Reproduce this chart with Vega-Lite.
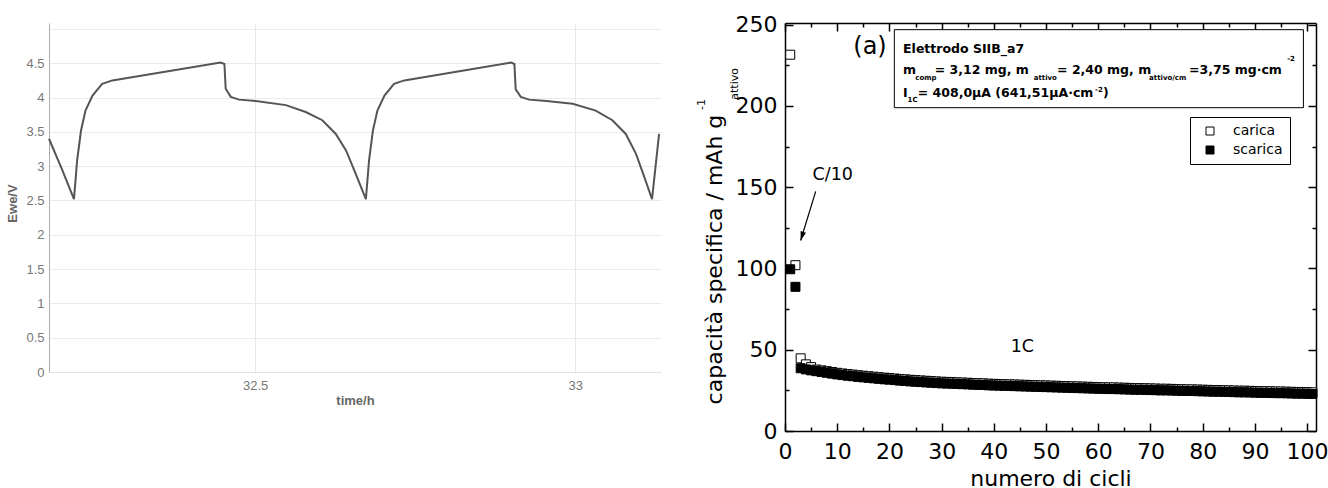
{
  "$schema": "https://vega.github.io/schema/vega-lite/v6.json",
  "padding": {"left": 6, "top": 13, "right": 0, "bottom": 0},
  "config": {
    "font": "Liberation Sans",
    "view": {"stroke": null}
  },
  "spacing": 124,
  "bounds": "flush",
  "hconcat": [
    {
      "width": 612,
      "height": 349,
      "data": {"values": [
        {"tempo": 32.178, "E": 3.40}, {"tempo": 32.198, "E": 2.96}, {"tempo": 32.217, "E": 2.52},
        {"tempo": 32.222, "E": 3.09}, {"tempo": 32.228, "E": 3.52}, {"tempo": 32.235, "E": 3.81},
        {"tempo": 32.246, "E": 4.03}, {"tempo": 32.261, "E": 4.20}, {"tempo": 32.277, "E": 4.25},
        {"tempo": 32.446, "E": 4.51}, {"tempo": 32.452, "E": 4.49}, {"tempo": 32.454, "E": 4.13},
        {"tempo": 32.462, "E": 4.01}, {"tempo": 32.475, "E": 3.97}, {"tempo": 32.501, "E": 3.95},
        {"tempo": 32.548, "E": 3.89}, {"tempo": 32.579, "E": 3.79}, {"tempo": 32.605, "E": 3.67},
        {"tempo": 32.626, "E": 3.47}, {"tempo": 32.642, "E": 3.23}, {"tempo": 32.657, "E": 2.89},
        {"tempo": 32.673, "E": 2.52}, {"tempo": 32.678, "E": 3.09}, {"tempo": 32.684, "E": 3.52},
        {"tempo": 32.691, "E": 3.81}, {"tempo": 32.702, "E": 4.03}, {"tempo": 32.717, "E": 4.20},
        {"tempo": 32.733, "E": 4.25}, {"tempo": 32.900, "E": 4.51}, {"tempo": 32.905, "E": 4.49},
        {"tempo": 32.907, "E": 4.12}, {"tempo": 32.915, "E": 4.01}, {"tempo": 32.928, "E": 3.97},
        {"tempo": 32.955, "E": 3.95}, {"tempo": 32.996, "E": 3.91}, {"tempo": 33.032, "E": 3.81},
        {"tempo": 33.058, "E": 3.67}, {"tempo": 33.079, "E": 3.47}, {"tempo": 33.095, "E": 3.18},
        {"tempo": 33.108, "E": 2.84}, {"tempo": 33.120, "E": 2.52}, {"tempo": 33.131, "E": 3.47}
      ]},
      "mark": {"type": "line", "color": "#555555", "strokeWidth": 2},
      "encoding": {
        "x": {
          "field": "tempo", "type": "quantitative",
          "scale": {"domain": [32.178, 33.134], "nice": false, "zero": false},
          "axis": {
            "values": [32.5, 33], "format": "~g", "title": "time/h",
            "grid": true, "gridColor": "#e6e6e6", "domainColor": "#e2e2d6",
            "tickSize": 0, "labelPadding": 7, "labelFontSize": 13, "labelColor": "#777777",
            "titleFontSize": 13, "titleFontWeight": "bold", "titleColor": "#666666", "titlePadding": 2
          }
        },
        "y": {
          "field": "E", "type": "quantitative",
          "scale": {"domain": [0, 5.087], "nice": false},
          "axis": {
            "values": [0, 0.5, 1, 1.5, 2, 2.5, 3, 3.5, 4, 4.5, 5],
            "labelExpr": "datum.value == 5 ? '' : format(datum.value, '~g')",
            "grid": true, "gridColor": "#ebebeb", "domainColor": "#aaaaaa",
            "tickSize": 0, "labelPadding": 5, "labelFontSize": 13, "labelColor": "#777777",
            "title": "Ewe/V", "titleX": -30, "titleY": 180, "titleFontSize": 13,
            "titleFontWeight": "bold", "titleColor": "#666666"
          }
        }
      }
    },
    {
      "width": 531,
      "height": 408,
      "resolve": {"axis": {"x": "independent", "y": "independent"}},
      "layer": [
        {
          "data": {"values": [
            {"ciclo": 1, "capacita": 231.5, "serie": "carica"},
            {"ciclo": 2, "capacita": 102.0, "serie": "carica"},
            {"ciclo": 3, "capacita": 44.7, "serie": "carica"},
            {"ciclo": 4, "capacita": 41.0, "serie": "carica"},
            {"ciclo": 5, "capacita": 39.3, "serie": "carica"},
            {"ciclo": 6, "capacita": 37.8, "serie": "carica"},
            {"ciclo": 7, "capacita": 37.3, "serie": "carica"},
            {"ciclo": 8, "capacita": 36.8, "serie": "carica"},
            {"ciclo": 9, "capacita": 36.3, "serie": "carica"},
            {"ciclo": 10, "capacita": 35.8, "serie": "carica"},
            {"ciclo": 11, "capacita": 35.4, "serie": "carica"},
            {"ciclo": 12, "capacita": 35.0, "serie": "carica"},
            {"ciclo": 13, "capacita": 34.7, "serie": "carica"},
            {"ciclo": 14, "capacita": 34.3, "serie": "carica"},
            {"ciclo": 15, "capacita": 34.0, "serie": "carica"},
            {"ciclo": 16, "capacita": 33.7, "serie": "carica"},
            {"ciclo": 17, "capacita": 33.4, "serie": "carica"},
            {"ciclo": 18, "capacita": 33.1, "serie": "carica"},
            {"ciclo": 19, "capacita": 32.8, "serie": "carica"},
            {"ciclo": 20, "capacita": 32.6, "serie": "carica"},
            {"ciclo": 21, "capacita": 32.3, "serie": "carica"},
            {"ciclo": 22, "capacita": 32.0, "serie": "carica"},
            {"ciclo": 23, "capacita": 31.8, "serie": "carica"},
            {"ciclo": 24, "capacita": 31.5, "serie": "carica"},
            {"ciclo": 25, "capacita": 31.3, "serie": "carica"},
            {"ciclo": 26, "capacita": 31.1, "serie": "carica"},
            {"ciclo": 27, "capacita": 30.9, "serie": "carica"},
            {"ciclo": 28, "capacita": 30.7, "serie": "carica"},
            {"ciclo": 29, "capacita": 30.5, "serie": "carica"},
            {"ciclo": 30, "capacita": 30.3, "serie": "carica"},
            {"ciclo": 31, "capacita": 30.2, "serie": "carica"},
            {"ciclo": 32, "capacita": 30.1, "serie": "carica"},
            {"ciclo": 33, "capacita": 29.9, "serie": "carica"},
            {"ciclo": 34, "capacita": 29.8, "serie": "carica"},
            {"ciclo": 35, "capacita": 29.7, "serie": "carica"},
            {"ciclo": 36, "capacita": 29.5, "serie": "carica"},
            {"ciclo": 37, "capacita": 29.4, "serie": "carica"},
            {"ciclo": 38, "capacita": 29.3, "serie": "carica"},
            {"ciclo": 39, "capacita": 29.1, "serie": "carica"},
            {"ciclo": 40, "capacita": 29.0, "serie": "carica"},
            {"ciclo": 41, "capacita": 28.9, "serie": "carica"},
            {"ciclo": 42, "capacita": 28.8, "serie": "carica"},
            {"ciclo": 43, "capacita": 28.7, "serie": "carica"},
            {"ciclo": 44, "capacita": 28.6, "serie": "carica"},
            {"ciclo": 45, "capacita": 28.5, "serie": "carica"},
            {"ciclo": 46, "capacita": 28.4, "serie": "carica"},
            {"ciclo": 47, "capacita": 28.3, "serie": "carica"},
            {"ciclo": 48, "capacita": 28.2, "serie": "carica"},
            {"ciclo": 49, "capacita": 28.1, "serie": "carica"},
            {"ciclo": 50, "capacita": 28.0, "serie": "carica"},
            {"ciclo": 51, "capacita": 27.9, "serie": "carica"},
            {"ciclo": 52, "capacita": 27.8, "serie": "carica"},
            {"ciclo": 53, "capacita": 27.7, "serie": "carica"},
            {"ciclo": 54, "capacita": 27.6, "serie": "carica"},
            {"ciclo": 55, "capacita": 27.5, "serie": "carica"},
            {"ciclo": 56, "capacita": 27.4, "serie": "carica"},
            {"ciclo": 57, "capacita": 27.3, "serie": "carica"},
            {"ciclo": 58, "capacita": 27.2, "serie": "carica"},
            {"ciclo": 59, "capacita": 27.1, "serie": "carica"},
            {"ciclo": 60, "capacita": 27.0, "serie": "carica"},
            {"ciclo": 61, "capacita": 26.9, "serie": "carica"},
            {"ciclo": 62, "capacita": 26.8, "serie": "carica"},
            {"ciclo": 63, "capacita": 26.8, "serie": "carica"},
            {"ciclo": 64, "capacita": 26.7, "serie": "carica"},
            {"ciclo": 65, "capacita": 26.6, "serie": "carica"},
            {"ciclo": 66, "capacita": 26.5, "serie": "carica"},
            {"ciclo": 67, "capacita": 26.4, "serie": "carica"},
            {"ciclo": 68, "capacita": 26.4, "serie": "carica"},
            {"ciclo": 69, "capacita": 26.3, "serie": "carica"},
            {"ciclo": 70, "capacita": 26.2, "serie": "carica"},
            {"ciclo": 71, "capacita": 26.1, "serie": "carica"},
            {"ciclo": 72, "capacita": 26.0, "serie": "carica"},
            {"ciclo": 73, "capacita": 26.0, "serie": "carica"},
            {"ciclo": 74, "capacita": 25.9, "serie": "carica"},
            {"ciclo": 75, "capacita": 25.8, "serie": "carica"},
            {"ciclo": 76, "capacita": 25.7, "serie": "carica"},
            {"ciclo": 77, "capacita": 25.6, "serie": "carica"},
            {"ciclo": 78, "capacita": 25.6, "serie": "carica"},
            {"ciclo": 79, "capacita": 25.5, "serie": "carica"},
            {"ciclo": 80, "capacita": 25.4, "serie": "carica"},
            {"ciclo": 81, "capacita": 25.3, "serie": "carica"},
            {"ciclo": 82, "capacita": 25.2, "serie": "carica"},
            {"ciclo": 83, "capacita": 25.2, "serie": "carica"},
            {"ciclo": 84, "capacita": 25.1, "serie": "carica"},
            {"ciclo": 85, "capacita": 25.0, "serie": "carica"},
            {"ciclo": 86, "capacita": 24.9, "serie": "carica"},
            {"ciclo": 87, "capacita": 24.8, "serie": "carica"},
            {"ciclo": 88, "capacita": 24.8, "serie": "carica"},
            {"ciclo": 89, "capacita": 24.7, "serie": "carica"},
            {"ciclo": 90, "capacita": 24.6, "serie": "carica"},
            {"ciclo": 91, "capacita": 24.5, "serie": "carica"},
            {"ciclo": 92, "capacita": 24.5, "serie": "carica"},
            {"ciclo": 93, "capacita": 24.4, "serie": "carica"},
            {"ciclo": 94, "capacita": 24.3, "serie": "carica"},
            {"ciclo": 95, "capacita": 24.3, "serie": "carica"},
            {"ciclo": 96, "capacita": 24.2, "serie": "carica"},
            {"ciclo": 97, "capacita": 24.1, "serie": "carica"},
            {"ciclo": 98, "capacita": 24.0, "serie": "carica"},
            {"ciclo": 99, "capacita": 24.0, "serie": "carica"},
            {"ciclo": 100, "capacita": 23.9, "serie": "carica"},
            {"ciclo": 101, "capacita": 23.8, "serie": "carica"},
            {"ciclo": 1, "capacita": 99.5, "serie": "scarica"},
            {"ciclo": 2, "capacita": 88.7, "serie": "scarica"},
            {"ciclo": 3, "capacita": 38.6, "serie": "scarica"},
            {"ciclo": 4, "capacita": 37.9, "serie": "scarica"},
            {"ciclo": 5, "capacita": 37.3, "serie": "scarica"},
            {"ciclo": 6, "capacita": 36.8, "serie": "scarica"},
            {"ciclo": 7, "capacita": 36.3, "serie": "scarica"},
            {"ciclo": 8, "capacita": 35.8, "serie": "scarica"},
            {"ciclo": 9, "capacita": 35.3, "serie": "scarica"},
            {"ciclo": 10, "capacita": 34.8, "serie": "scarica"},
            {"ciclo": 11, "capacita": 34.4, "serie": "scarica"},
            {"ciclo": 12, "capacita": 34.0, "serie": "scarica"},
            {"ciclo": 13, "capacita": 33.7, "serie": "scarica"},
            {"ciclo": 14, "capacita": 33.3, "serie": "scarica"},
            {"ciclo": 15, "capacita": 33.0, "serie": "scarica"},
            {"ciclo": 16, "capacita": 32.7, "serie": "scarica"},
            {"ciclo": 17, "capacita": 32.4, "serie": "scarica"},
            {"ciclo": 18, "capacita": 32.1, "serie": "scarica"},
            {"ciclo": 19, "capacita": 31.8, "serie": "scarica"},
            {"ciclo": 20, "capacita": 31.6, "serie": "scarica"},
            {"ciclo": 21, "capacita": 31.3, "serie": "scarica"},
            {"ciclo": 22, "capacita": 31.0, "serie": "scarica"},
            {"ciclo": 23, "capacita": 30.8, "serie": "scarica"},
            {"ciclo": 24, "capacita": 30.5, "serie": "scarica"},
            {"ciclo": 25, "capacita": 30.3, "serie": "scarica"},
            {"ciclo": 26, "capacita": 30.1, "serie": "scarica"},
            {"ciclo": 27, "capacita": 29.9, "serie": "scarica"},
            {"ciclo": 28, "capacita": 29.7, "serie": "scarica"},
            {"ciclo": 29, "capacita": 29.5, "serie": "scarica"},
            {"ciclo": 30, "capacita": 29.3, "serie": "scarica"},
            {"ciclo": 31, "capacita": 29.2, "serie": "scarica"},
            {"ciclo": 32, "capacita": 29.1, "serie": "scarica"},
            {"ciclo": 33, "capacita": 28.9, "serie": "scarica"},
            {"ciclo": 34, "capacita": 28.8, "serie": "scarica"},
            {"ciclo": 35, "capacita": 28.7, "serie": "scarica"},
            {"ciclo": 36, "capacita": 28.5, "serie": "scarica"},
            {"ciclo": 37, "capacita": 28.4, "serie": "scarica"},
            {"ciclo": 38, "capacita": 28.3, "serie": "scarica"},
            {"ciclo": 39, "capacita": 28.1, "serie": "scarica"},
            {"ciclo": 40, "capacita": 28.0, "serie": "scarica"},
            {"ciclo": 41, "capacita": 27.9, "serie": "scarica"},
            {"ciclo": 42, "capacita": 27.8, "serie": "scarica"},
            {"ciclo": 43, "capacita": 27.7, "serie": "scarica"},
            {"ciclo": 44, "capacita": 27.6, "serie": "scarica"},
            {"ciclo": 45, "capacita": 27.5, "serie": "scarica"},
            {"ciclo": 46, "capacita": 27.4, "serie": "scarica"},
            {"ciclo": 47, "capacita": 27.3, "serie": "scarica"},
            {"ciclo": 48, "capacita": 27.2, "serie": "scarica"},
            {"ciclo": 49, "capacita": 27.1, "serie": "scarica"},
            {"ciclo": 50, "capacita": 27.0, "serie": "scarica"},
            {"ciclo": 51, "capacita": 26.9, "serie": "scarica"},
            {"ciclo": 52, "capacita": 26.8, "serie": "scarica"},
            {"ciclo": 53, "capacita": 26.7, "serie": "scarica"},
            {"ciclo": 54, "capacita": 26.6, "serie": "scarica"},
            {"ciclo": 55, "capacita": 26.5, "serie": "scarica"},
            {"ciclo": 56, "capacita": 26.4, "serie": "scarica"},
            {"ciclo": 57, "capacita": 26.3, "serie": "scarica"},
            {"ciclo": 58, "capacita": 26.2, "serie": "scarica"},
            {"ciclo": 59, "capacita": 26.1, "serie": "scarica"},
            {"ciclo": 60, "capacita": 26.0, "serie": "scarica"},
            {"ciclo": 61, "capacita": 25.9, "serie": "scarica"},
            {"ciclo": 62, "capacita": 25.8, "serie": "scarica"},
            {"ciclo": 63, "capacita": 25.8, "serie": "scarica"},
            {"ciclo": 64, "capacita": 25.7, "serie": "scarica"},
            {"ciclo": 65, "capacita": 25.6, "serie": "scarica"},
            {"ciclo": 66, "capacita": 25.5, "serie": "scarica"},
            {"ciclo": 67, "capacita": 25.4, "serie": "scarica"},
            {"ciclo": 68, "capacita": 25.4, "serie": "scarica"},
            {"ciclo": 69, "capacita": 25.3, "serie": "scarica"},
            {"ciclo": 70, "capacita": 25.2, "serie": "scarica"},
            {"ciclo": 71, "capacita": 25.1, "serie": "scarica"},
            {"ciclo": 72, "capacita": 25.0, "serie": "scarica"},
            {"ciclo": 73, "capacita": 25.0, "serie": "scarica"},
            {"ciclo": 74, "capacita": 24.9, "serie": "scarica"},
            {"ciclo": 75, "capacita": 24.8, "serie": "scarica"},
            {"ciclo": 76, "capacita": 24.7, "serie": "scarica"},
            {"ciclo": 77, "capacita": 24.6, "serie": "scarica"},
            {"ciclo": 78, "capacita": 24.6, "serie": "scarica"},
            {"ciclo": 79, "capacita": 24.5, "serie": "scarica"},
            {"ciclo": 80, "capacita": 24.4, "serie": "scarica"},
            {"ciclo": 81, "capacita": 24.3, "serie": "scarica"},
            {"ciclo": 82, "capacita": 24.2, "serie": "scarica"},
            {"ciclo": 83, "capacita": 24.2, "serie": "scarica"},
            {"ciclo": 84, "capacita": 24.1, "serie": "scarica"},
            {"ciclo": 85, "capacita": 24.0, "serie": "scarica"},
            {"ciclo": 86, "capacita": 23.9, "serie": "scarica"},
            {"ciclo": 87, "capacita": 23.8, "serie": "scarica"},
            {"ciclo": 88, "capacita": 23.8, "serie": "scarica"},
            {"ciclo": 89, "capacita": 23.7, "serie": "scarica"},
            {"ciclo": 90, "capacita": 23.6, "serie": "scarica"},
            {"ciclo": 91, "capacita": 23.5, "serie": "scarica"},
            {"ciclo": 92, "capacita": 23.5, "serie": "scarica"},
            {"ciclo": 93, "capacita": 23.4, "serie": "scarica"},
            {"ciclo": 94, "capacita": 23.3, "serie": "scarica"},
            {"ciclo": 95, "capacita": 23.3, "serie": "scarica"},
            {"ciclo": 96, "capacita": 23.2, "serie": "scarica"},
            {"ciclo": 97, "capacita": 23.1, "serie": "scarica"},
            {"ciclo": 98, "capacita": 23.0, "serie": "scarica"},
            {"ciclo": 99, "capacita": 23.0, "serie": "scarica"},
            {"ciclo": 100, "capacita": 22.9, "serie": "scarica"},
            {"ciclo": 101, "capacita": 22.8, "serie": "scarica"}
          ]},
          "mark": {"type": "square", "size": 81, "stroke": "black", "strokeWidth": 1, "opacity": 1},
          "encoding": {
            "x": {
              "field": "ciclo", "type": "quantitative",
              "scale": {"domain": [0, 101.7], "nice": false},
              "axis": {
                "orient": "bottom", "title": "numero di cicli",
                "values": [0, 5, 10, 15, 20, 25, 30, 35, 40, 45, 50, 55, 60, 65, 70, 75, 80, 85, 90, 95, 100],
                "labelExpr": "datum.value % 10 === 0 ? datum.label : ''",
                "tickSize": {"condition": {"test": "datum.value % 10 === 0", "value": -8}, "value": -4},
                "tickColor": "black", "tickWidth": 1.5, "domainColor": "black", "domainWidth": 1.5,
                "grid": false, "labelFont": "DejaVu Sans", "labelFontSize": 22, "labelColor": "black",
                "labelPadding": 18, "labelFlush": false, "labelOverlap": false,
                "titleFont": "DejaVu Sans", "titleFontSize": 22, "titleFontWeight": "normal",
                "titleColor": "black", "titlePadding": 2
              }
            },
            "y": {
              "field": "capacita", "type": "quantitative",
              "scale": {"domain": [0, 251], "nice": false},
              "axis": {
                "orient": "left", "title": null,
                "values": [0, 25, 50, 75, 100, 125, 150, 175, 200, 225, 250],
                "labelExpr": "datum.value % 50 === 0 ? datum.label : ''",
                "tickSize": {"condition": {"test": "datum.value % 50 === 0", "value": -8}, "value": -4},
                "tickColor": "black", "tickWidth": 1.5, "domainColor": "black", "domainWidth": 1.5,
                "grid": false, "labelFont": "DejaVu Sans", "labelFontSize": 22, "labelColor": "black",
                "labelPadding": 16, "labelFlush": false, "labelOverlap": false
              }
            },
            "fill": {
              "field": "serie", "type": "nominal",
              "scale": {"domain": ["carica", "scarica"], "range": ["white", "black"]},
              "legend": {
                "title": null, "orient": "none", "legendX": 1141, "legendY": 94,
                "strokeColor": "black", "fillColor": "white", "padding": 7,
                "symbolType": "square", "symbolSize": 64, "symbolStrokeColor": "black",
                "symbolStrokeWidth": 1, "symbolOffset": 6, "labelOffset": 16,
                "labelFont": "DejaVu Sans", "labelFontSize": 14, "labelColor": "black", "rowPadding": 5
              }
            }
          }
        },
        {
          "data": {"values": [{"x": 20.94, "x2": 99.29, "y": 246.9, "y2": 198.9}]},
          "mark": {"type": "rect", "fill": "white", "stroke": "black", "strokeWidth": 1},
          "encoding": {
            "x": {
              "field": "x", "type": "quantitative",
              "axis": {
                "orient": "top", "title": null, "labels": false,
                "values": [0, 5, 10, 15, 20, 25, 30, 35, 40, 45, 50, 55, 60, 65, 70, 75, 80, 85, 90, 95, 100],
                "tickSize": {"condition": {"test": "datum.value % 10 === 0", "value": -8}, "value": -4},
                "tickColor": "black", "tickWidth": 1.5, "domainColor": "black", "domainWidth": 1.5, "grid": false
              }
            },
            "x2": {"field": "x2"},
            "y": {
              "field": "y", "type": "quantitative",
              "axis": {
                "orient": "right", "title": null, "labels": false,
                "values": [0, 25, 50, 75, 100, 125, 150, 175, 200, 225, 250],
                "tickSize": {"condition": {"test": "datum.value % 50 === 0", "value": -8}, "value": -4},
                "tickColor": "black", "tickWidth": 1.5, "domainColor": "black", "domainWidth": 1.5, "grid": false
              }
            },
            "y2": {"field": "y2"}
          }
        },
        {
          "data": {"values": [
            {"x": 22.61, "y": 232.8, "testo": "Elettrodo SIIB_a7"},
            {"x": 22.61, "y": 219.4, "testo": "m"},
            {"x": 28.68, "y": 219.4, "testo": "= 3,12 mg, m"},
            {"x": 52.11, "y": 219.4, "testo": "= 2,40 mg, m"},
            {"x": 77.39, "y": 219.4, "testo": "=3,75 mg·cm"},
            {"x": 22.61, "y": 205.7, "testo": "I"},
            {"x": 25.42, "y": 205.7, "testo": "= 408,0µA (641,51µA·cm"},
            {"x": 60.92, "y": 205.7, "testo": ")"}
          ]},
          "mark": {"type": "text", "align": "left", "baseline": "alphabetic", "font": "DejaVu Sans", "fontSize": 12.5, "fontWeight": "bold", "color": "black"},
          "encoding": {
            "x": {"field": "x", "type": "quantitative", "axis": null},
            "y": {"field": "y", "type": "quantitative", "axis": null},
            "text": {"field": "testo"}
          }
        },
        {
          "data": {"values": [
            {"x": 24.96, "y": 216.0, "testo": "comp"},
            {"x": 47.64, "y": 216.0, "testo": "attivo"},
            {"x": 69.73, "y": 216.0, "testo": "attivo/cm"},
            {"x": 96.17, "y": 227.5, "testo": "-2"},
            {"x": 23.47, "y": 202.6, "testo": "1C"},
            {"x": 59.39, "y": 208.5, "testo": "-2"}
          ]},
          "mark": {"type": "text", "align": "left", "baseline": "alphabetic", "font": "DejaVu Sans", "fontSize": 7, "fontWeight": "bold", "color": "black"},
          "encoding": {
            "x": {"field": "x", "type": "quantitative", "axis": null},
            "y": {"field": "y", "type": "quantitative", "axis": null},
            "text": {"field": "testo"}
          }
        },
        {
          "data": {"values": [
            {"x": 9.14, "y": 154.6, "testo": "C/10"},
            {"x": 45.46, "y": 48.8, "testo": "1C"}
          ]},
          "mark": {"type": "text", "align": "center", "baseline": "alphabetic", "font": "DejaVu Sans", "fontSize": 17.5, "color": "black"},
          "encoding": {
            "x": {"field": "x", "type": "quantitative", "axis": null},
            "y": {"field": "y", "type": "quantitative", "axis": null},
            "text": {"field": "testo"}
          }
        },
        {
          "data": {"values": [{"x": 16.28, "y": 231.8, "testo": "(a)"}]},
          "mark": {"type": "text", "align": "center", "baseline": "alphabetic", "font": "DejaVu Sans", "fontSize": 24, "color": "black"},
          "encoding": {
            "x": {"field": "x", "type": "quantitative", "axis": null},
            "y": {"field": "y", "type": "quantitative", "axis": null},
            "text": {"field": "testo"}
          }
        },
        {
          "data": {"values": [{"x": -12.07, "y": 194.6, "testo": "capacità specifica / mAh g"}]},
          "mark": {"type": "text", "align": "right", "baseline": "alphabetic", "angle": 270, "font": "DejaVu Sans", "fontSize": 22, "color": "black"},
          "encoding": {
            "x": {"field": "x", "type": "quantitative", "axis": null},
            "y": {"field": "y", "type": "quantitative", "axis": null},
            "text": {"field": "testo"}
          }
        },
        {
          "data": {"values": [
            {"x": -15.33, "y": 197.5, "testo": "-1"},
            {"x": -9.0, "y": 203.8, "testo": "attivo"}
          ]},
          "mark": {"type": "text", "align": "left", "baseline": "alphabetic", "angle": 270, "font": "DejaVu Sans", "fontSize": 11, "color": "black"},
          "encoding": {
            "x": {"field": "x", "type": "quantitative", "axis": null},
            "y": {"field": "y", "type": "quantitative", "axis": null},
            "text": {"field": "testo"}
          }
        },
        {
          "data": {"values": [{"x": 5.88, "y": 147.4, "x2": 3.0, "y2": 117.2}]},
          "mark": {"type": "rule", "color": "black", "strokeWidth": 1.2},
          "encoding": {
            "x": {"field": "x", "type": "quantitative", "axis": null},
            "y": {"field": "y", "type": "quantitative", "axis": null},
            "x2": {"field": "x2"},
            "y2": {"field": "y2"}
          }
        },
        {
          "data": {"values": [{"x": 3.0, "y": 117.2}]},
          "mark": {"type": "point", "shape": "M0,0L-1.4,-4.5L1.4,-4.5Z", "size": 16, "filled": true, "color": "black", "opacity": 1, "angle": 17},
          "encoding": {
            "x": {"field": "x", "type": "quantitative", "axis": null},
            "y": {"field": "y", "type": "quantitative", "axis": null}
          }
        }
      ]
    }
  ]
}
